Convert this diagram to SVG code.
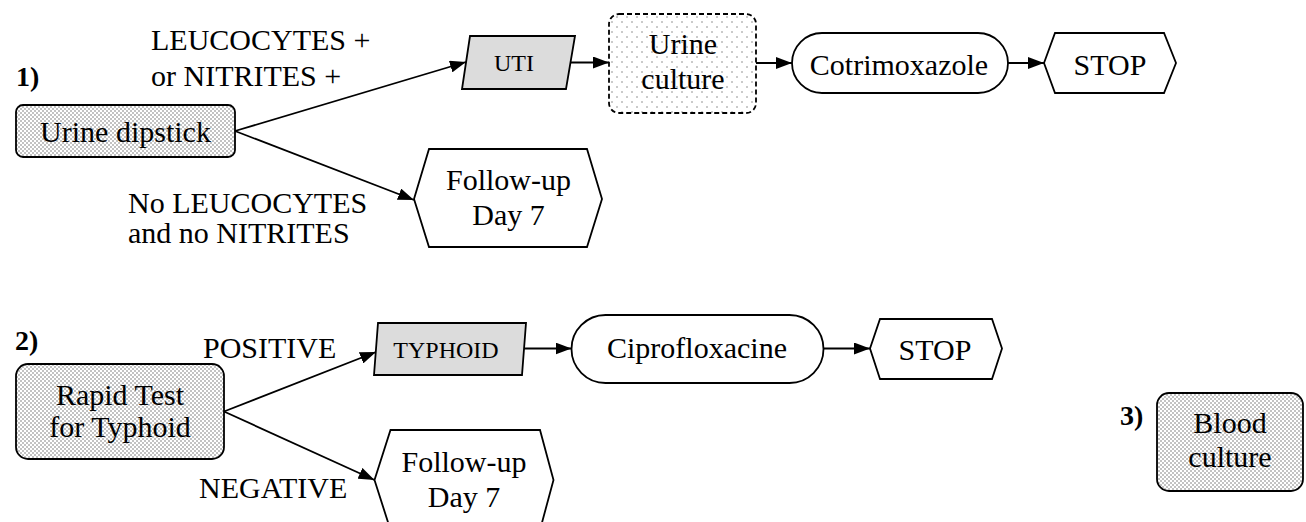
<svg xmlns="http://www.w3.org/2000/svg" width="1306" height="522" viewBox="0 0 1306 522" font-family="Liberation Serif, DejaVu Serif, serif">
<style>
text{font-family:'Liberation Serif','DejaVu Serif',serif;font-size:30px;fill:#000}
.s{font-size:24px}
.b{font-weight:bold;font-size:28px}
.m{text-anchor:middle}
.shape{stroke:#000;stroke-width:1.8;fill:#fff}
.dense{fill:url(#dense)}
.gray{fill:#dcdcdc}
.sparse{fill:url(#sparse);stroke-dasharray:5 3}
.conn line{stroke:#000;stroke-width:1.8;marker-end:url(#arr)}
</style>
<defs>
<pattern id="dense" width="4" height="4" patternUnits="userSpaceOnUse">
<rect width="4" height="4" fill="#fff"/>
<circle cx="1" cy="1" r="0.75" fill="#666"/>
<circle cx="3" cy="3" r="0.75" fill="#666"/>
</pattern>
<pattern id="sparse" width="10" height="10" patternUnits="userSpaceOnUse">
<rect width="10" height="10" fill="#fff"/>
<circle cx="2" cy="2" r="0.8" fill="#888"/>
<circle cx="7" cy="7" r="0.8" fill="#888"/>
</pattern>
<marker id="arr" markerWidth="16" markerHeight="12" refX="16" refY="6" orient="auto" markerUnits="userSpaceOnUse">
<path d="M0,0 L16,6 L0,12 z" fill="#000"/>
</marker>
</defs>

<g id="labels">
<text class="b" x="16" y="86">1)</text>
<text x="151" y="50">LEUCOCYTES +</text>
<text x="151" y="86">or NITRITES +</text>
<text x="128" y="213">No LEUCOCYTES</text>
<text x="128" y="243">and no NITRITES</text>
<text class="b" x="15" y="350">2)</text>
<text x="203" y="358">POSITIVE</text>
<text x="199" y="498">NEGATIVE</text>
<text class="b" x="1120" y="425">3)</text>
</g>

<g id="connectors" class="conn">
<line x1="235" y1="131" x2="466" y2="62"/>
<line x1="235" y1="131" x2="414" y2="200"/>
<line x1="570.5" y1="62.5" x2="609" y2="62.5"/>
<line x1="756" y1="63" x2="792" y2="63"/>
<line x1="1008" y1="63" x2="1044" y2="63"/>
<line x1="224" y1="411.5" x2="376" y2="352"/>
<line x1="224" y1="411.5" x2="374.5" y2="480"/>
<line x1="523.5" y1="348.5" x2="571.5" y2="348.5"/>
<line x1="823.5" y1="348.5" x2="870" y2="348.5"/>
</g>

<g id="urine-dipstick">
<rect class="shape dense" x="16" y="105" width="219" height="52" rx="7"/>
<text class="m" x="125.5" y="142">Urine dipstick</text>
</g>

<g id="uti">
<polygon class="shape gray" points="470,36 575,36 566,89 462,89"/>
<text class="s m" x="514" y="71">UTI</text>
</g>

<g id="urine-culture">
<rect class="shape sparse" x="609" y="14" width="147" height="99" rx="10"/>
<text class="m" x="683" y="54">Urine</text>
<text class="m" x="683" y="89">culture</text>
</g>

<g id="cotrimoxazole">
<rect class="shape" x="792" y="33" width="216" height="60" rx="30"/>
<text class="m" x="899" y="75">Cotrimoxazole</text>
</g>

<g id="stop-1">
<polygon class="shape" points="1044,63 1055,33 1164,33 1176,63 1164,93 1055,93"/>
<text class="m" x="1110" y="75">STOP</text>
</g>

<g id="followup-1">
<polygon class="shape" points="414,199 429,149 587,149 602,199 587,247 429,247"/>
<text class="m" x="508.5" y="190">Follow-up</text>
<text class="m" x="508.5" y="225">Day 7</text>
</g>

<g id="rapid-test">
<rect class="shape dense" x="16" y="364" width="208" height="95" rx="12"/>
<text class="m" x="120" y="405">Rapid Test</text>
<text class="m" x="120" y="437">for Typhoid</text>
</g>

<g id="typhoid">
<polygon class="shape gray" points="378,323 526,323 522,375 374,375"/>
<text class="s m" x="446" y="358">TYPHOID</text>
</g>

<g id="ciprofloxacine">
<rect class="shape" x="571.5" y="315" width="252" height="68" rx="34"/>
<text class="m" x="697" y="358">Ciprofloxacine</text>
</g>

<g id="stop-2">
<polygon class="shape" points="870,348.5 880,319 992,319 1002,348.5 992,379 880,379"/>
<text class="m" x="935" y="360">STOP</text>
</g>

<g id="followup-2">
<polygon class="shape" points="374.5,480 390.5,430 540,430 553.5,480 540,530 390.5,530"/>
<text class="m" x="464" y="472">Follow-up</text>
<text class="m" x="464" y="507">Day 7</text>
</g>

<g id="blood-culture">
<rect class="shape dense" x="1157" y="393" width="146" height="98" rx="12"/>
<text class="m" x="1230" y="433">Blood</text>
<text class="m" x="1230" y="467">culture</text>
</g>
</svg>
